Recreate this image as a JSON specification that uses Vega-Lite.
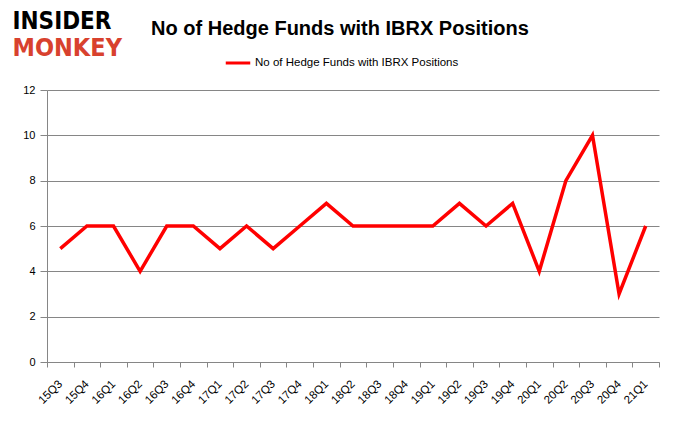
{
  "$schema": "https://vega.github.io/schema/vega-lite/v6.json",
  "width": 612,
  "height": 272,
  "autosize": {"type": "none"},
  "padding": {"left": 47, "top": 90, "right": 21, "bottom": 71},
  "background": "white",
  "title": {
    "text": "No of Hedge Funds with IBRX Positions",
    "font": "Liberation Sans",
    "fontSize": 20,
    "fontWeight": "bold",
    "color": "#000000",
    "anchor": "middle",
    "frame": "group",
    "baseline": "alphabetic",
    "dx": -13,
    "offset": -46
  },
  "config": {
    "view": {"stroke": null},
    "font": "Liberation Sans"
  },
  "data": {
    "values": [
      {"q": "15Q3", "n": 5, "s": "No of Hedge Funds with IBRX Positions"},
      {"q": "15Q4", "n": 6, "s": "No of Hedge Funds with IBRX Positions"},
      {"q": "16Q1", "n": 6, "s": "No of Hedge Funds with IBRX Positions"},
      {"q": "16Q2", "n": 4, "s": "No of Hedge Funds with IBRX Positions"},
      {"q": "16Q3", "n": 6, "s": "No of Hedge Funds with IBRX Positions"},
      {"q": "16Q4", "n": 6, "s": "No of Hedge Funds with IBRX Positions"},
      {"q": "17Q1", "n": 5, "s": "No of Hedge Funds with IBRX Positions"},
      {"q": "17Q2", "n": 6, "s": "No of Hedge Funds with IBRX Positions"},
      {"q": "17Q3", "n": 5, "s": "No of Hedge Funds with IBRX Positions"},
      {"q": "17Q4", "n": 6, "s": "No of Hedge Funds with IBRX Positions"},
      {"q": "18Q1", "n": 7, "s": "No of Hedge Funds with IBRX Positions"},
      {"q": "18Q2", "n": 6, "s": "No of Hedge Funds with IBRX Positions"},
      {"q": "18Q3", "n": 6, "s": "No of Hedge Funds with IBRX Positions"},
      {"q": "18Q4", "n": 6, "s": "No of Hedge Funds with IBRX Positions"},
      {"q": "19Q1", "n": 6, "s": "No of Hedge Funds with IBRX Positions"},
      {"q": "19Q2", "n": 7, "s": "No of Hedge Funds with IBRX Positions"},
      {"q": "19Q3", "n": 6, "s": "No of Hedge Funds with IBRX Positions"},
      {"q": "19Q4", "n": 7, "s": "No of Hedge Funds with IBRX Positions"},
      {"q": "20Q1", "n": 4, "s": "No of Hedge Funds with IBRX Positions"},
      {"q": "20Q2", "n": 8, "s": "No of Hedge Funds with IBRX Positions"},
      {"q": "20Q3", "n": 10, "s": "No of Hedge Funds with IBRX Positions"},
      {"q": "20Q4", "n": 3, "s": "No of Hedge Funds with IBRX Positions"},
      {"q": "21Q1", "n": 6, "s": "No of Hedge Funds with IBRX Positions"}
    ]
  },
  "mark": {"type": "line", "color": "#ff0000", "strokeWidth": 3.5, "strokeJoin": "miter"},
  "encoding": {
    "x": {
      "field": "q",
      "type": "ordinal",
      "sort": null,
      "bandPosition": 0.5,
      "scale": {"type": "band", "paddingInner": 0, "paddingOuter": 0},
      "axis": {
        "tickBand": "extent",
        "labelAngle": -45,
        "labelAlign": "right",
        "labelBaseline": "middle",
        "labelFont": "Liberation Sans",
        "labelFontSize": 11.5,
        "labelColor": "#000000",
        "labelPadding": 15,
        "domainColor": "#868686",
        "tickColor": "#868686",
        "tickSize": 5,
        "grid": false,
        "title": "MONKEY",
        "titleFont": "DejaVu Sans Condensed",
        "titleFontSize": 25,
        "titleFontWeight": 900,
        "titleColor": "#d8412e",
        "titleAngle": 0,
        "titleAlign": "left",
        "titleBaseline": "alphabetic",
        "titleX": -35,
        "titleY": -307
      }
    },
    "y": {
      "field": "n",
      "type": "quantitative",
      "scale": {"domain": [0, 12]},
      "axis": {
        "values": [0, 2, 4, 6, 8, 10, 12],
        "labelFont": "Liberation Sans",
        "labelFontSize": 11,
        "labelColor": "#000000",
        "labelPadding": 5,
        "domainColor": "#868686",
        "tickColor": "#868686",
        "tickSize": 7,
        "gridColor": "#868686",
        "gridWidth": 1,
        "title": "INSIDER",
        "titleFont": "DejaVu Sans Condensed",
        "titleFontSize": 24,
        "titleFontWeight": 900,
        "titleColor": "#000000",
        "titleAngle": 0,
        "titleAlign": "left",
        "titleBaseline": "alphabetic",
        "titleX": -35,
        "titleY": -62
      }
    },
    "color": {
      "field": "s",
      "type": "nominal",
      "scale": {"range": ["#ff0000"]},
      "legend": {
        "title": null,
        "orient": "none",
        "legendX": 177,
        "legendY": -41,
        "symbolType": "stroke",
        "symbolSize": 600,
        "symbolStrokeWidth": 3,
        "labelFont": "Liberation Sans",
        "labelFontSize": 11.5,
        "labelColor": "#000000",
        "labelOffset": 3,
        "labelLimit": 400
      }
    }
  }
}
